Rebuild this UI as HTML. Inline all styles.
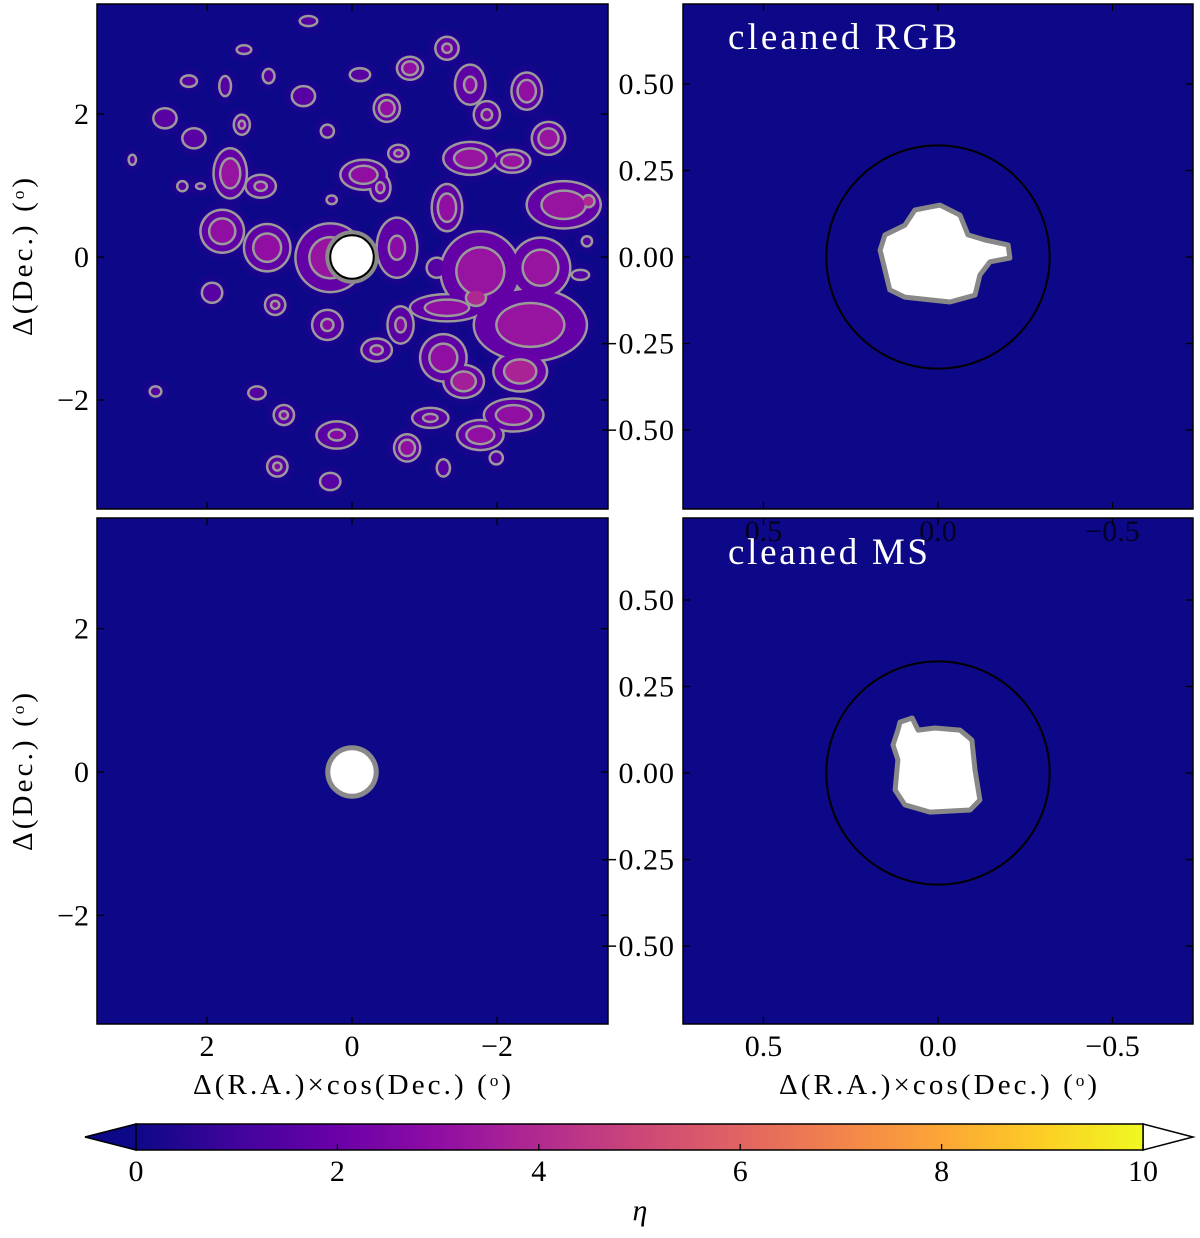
<!DOCTYPE html>
<html><head><meta charset="utf-8"><style>
html,body{margin:0;padding:0;background:#fff;}
svg text{font-family:"Liberation Serif",serif;}
</style></head><body>
<svg id="fig" width="1200" height="1233" viewBox="0 0 1200 1233" xmlns="http://www.w3.org/2000/svg">
<defs>
<linearGradient id="plasma" x1="0" x2="1" y1="0" y2="0">
<stop offset="0" stop-color="#0d0887"/><stop offset="0.1" stop-color="#41049d"/><stop offset="0.2" stop-color="#6a00a8"/><stop offset="0.3" stop-color="#8f0da4"/><stop offset="0.4" stop-color="#b12a90"/><stop offset="0.5" stop-color="#cc4778"/><stop offset="0.6" stop-color="#e16462"/><stop offset="0.7" stop-color="#f2844b"/><stop offset="0.8" stop-color="#fca636"/><stop offset="0.9" stop-color="#fcce25"/><stop offset="1" stop-color="#f0f921"/>
</linearGradient>
<clipPath id="c1"><rect x="97" y="4" width="511" height="505"/></clipPath>
<filter id="soft"><feGaussianBlur stdDeviation="3"/></filter>
</defs>
</svg>
<script>
// ---- data (deg): blob centres, radii and peak eta for the all-star density map ----
const blobRA  = [-1.31,-0.80,-1.63,-2.41,-0.48,-0.11,0.67,1.15,1.75,2.25,1.52,2.58,2.18,0.34,-0.64,-1.63,-2.21,-2.71,-1.86,1.68,1.26,-0.16,-0.39,-1.31,-2.92,-3.26,1.79,1.17,0.30,-0.62,-1.17,-1.77,-2.60,-1.71,-1.31,-2.46,1.06,1.93,0.34,-0.67,-0.34,-1.26,-2.32,-1.54,-2.23,-1.08,-1.77,0.21,-0.76,0.94,1.03,0.30,1.31,2.71,-1.26,-1.99,1.49,0.60,3.03,2.34,2.09,0.28,-3.15,-3.24];
const blobDec = [2.92,2.64,2.41,2.32,2.08,2.55,2.25,2.53,2.39,2.46,1.85,1.94,1.66,1.76,1.45,1.38,1.34,1.66,1.99,1.17,0.99,1.15,0.97,0.69,0.73,0.78,0.36,0.13,-0.01,0.13,-0.15,-0.20,-0.15,-0.57,-0.71,-0.95,-0.67,-0.50,-0.95,-0.95,-1.30,-1.41,-1.60,-1.74,-2.21,-2.25,-2.49,-2.49,-2.67,-2.21,-2.93,-3.14,-1.90,-1.88,-2.95,-2.81,2.90,3.30,1.36,0.99,0.99,0.80,-0.25,0.22];
const blobRx  = [0.16,0.18,0.21,0.21,0.18,0.14,0.16,0.08,0.08,0.11,0.11,0.16,0.16,0.09,0.14,0.37,0.25,0.23,0.18,0.23,0.21,0.32,0.14,0.21,0.51,0.14,0.30,0.32,0.48,0.28,0.14,0.55,0.41,0.23,0.51,0.78,0.14,0.14,0.21,0.18,0.21,0.32,0.37,0.28,0.41,0.25,0.32,0.28,0.18,0.14,0.14,0.14,0.12,0.08,0.09,0.09,0.10,0.12,0.05,0.07,0.06,0.07,0.12,0.07];
const blobRy  = [0.16,0.16,0.28,0.26,0.19,0.09,0.14,0.10,0.14,0.08,0.14,0.14,0.14,0.09,0.12,0.23,0.16,0.23,0.19,0.35,0.16,0.21,0.19,0.33,0.33,0.14,0.30,0.33,0.48,0.42,0.14,0.56,0.42,0.19,0.19,0.51,0.14,0.14,0.21,0.26,0.16,0.33,0.28,0.23,0.23,0.14,0.21,0.19,0.19,0.14,0.14,0.12,0.09,0.07,0.12,0.09,0.06,0.07,0.07,0.07,0.04,0.06,0.07,0.07];
const blobEta = [2.5,3,2.5,3,3,1.5,1.5,1,1,1,2,1.5,1.5,1.5,2,3.5,3.5,3.5,2,3.5,2.5,3,2,3,3.5,5.5,3,3,3.5,2.5,1,3.5,3.5,5.5,3,3.5,2,1.5,2,2,2,3,5,4.5,3,2,3,2,3,2,2,1.5,1,1,1,1,1,1,1,1,1,1,1,1];
// cleaned RGB / MS white regions (deg offsets)
const rgbRA  = [0.152,0.095,0.066,-0.006,-0.063,-0.086,-0.135,-0.201,-0.206,-0.149,-0.120,-0.106,-0.034,0.023,0.095,0.138,0.152,0.166];
const rgbDec = [0.064,0.092,0.136,0.150,0.121,0.064,0.049,0.035,-0.003,-0.014,-0.052,-0.110,-0.130,-0.124,-0.116,-0.095,-0.038,0.020];
const msRA  = [0.109,0.074,0.057,0.009,-0.063,-0.097,-0.106,-0.120,-0.092,0.023,0.095,0.123,0.115,0.129,0.115];
const msDec = [0.147,0.159,0.124,0.130,0.124,0.095,0.009,-0.078,-0.107,-0.113,-0.092,-0.049,0.038,0.081,0.124];
const leftTicks = [2,0,-2];
const rightXTicks = [0.5,0.0,-0.5];
const rightYTicks = [0.50,0.25,0.00,-0.25,-0.50];
const cbTicks = [0,2,4,6,8,10];
const clusterRadius = 0.32;
const maskRadius = 0.3;

const NS='http://www.w3.org/2000/svg';
const svg=document.getElementById('fig');
function el(tag,attrs,parent){const e=document.createElementNS(NS,tag);for(const k in attrs)e.setAttribute(k,attrs[k]);(parent||svg).appendChild(e);return e;}
const stops=['#0d0887','#41049d','#6a00a8','#8f0da4','#b12a90','#cc4778','#e16462','#f2844b','#fca636','#fcce25','#f0f921'];
function plasma(t){t=Math.max(0,Math.min(1,t))*10;const i=Math.min(9,Math.floor(t)),f=t-i;const a=stops[i],b=stops[i+1];
 const p=(s,k)=>parseInt(s.substr(k,2),16);let o='#';for(const k of [1,3,5]){o+=Math.round(p(a,k)+(p(b,k)-p(a,k))*f).toString(16).padStart(2,'0');}return o;}

const BG='#0d0887';
const P=[
 {x0:97,x1:608,y0:4,y1:509,cx:352,cy:257,sx:72.5,sy:71.5},
 {x0:683,x1:1193,y0:4,y1:509,cx:938,cy:257,sx:349,sy:346},
 {x0:97,x1:608,y0:518,y1:1024,cx:352,cy:772,sx:72.5,sy:71.7},
 {x0:683,x1:1193,y0:518,y1:1024,cx:938,cy:773,sx:349,sy:346}];
const X=(p,v)=>p.cx-v*p.sx, Y=(p,v)=>p.cy-v*p.sy;

P.forEach((p,i)=>{
 const r=el('rect',{x:p.x0,y:p.y0,width:p.x1-p.x0,height:p.y1-p.y0,fill:BG});
 
 
});

const p1=P[0];
const g1=el('g',{'clip-path':'url(#c1)'});


const glow=el('g',{filter:'url(#soft)'},g1);
const lv1s=el('g',{},g1), lv1f=el('g',{},g1), lv2s=el('g',{},g1), lv2f=el('g',{},g1);
for(let i=0;i<blobRA.length;i++){
 const cx=X(p1,blobRA[i]),cy=Y(p1,blobDec[i]),rx=blobRx[i]*p1.sx,ry=blobRy[i]*p1.sy,e=blobEta[i];
 let a=el('ellipse',{cx:cx,cy:cy,rx:rx+6,ry:ry+6,fill:'#2a0594',opacity:0.6},glow);
 a=el('ellipse',{cx:cx,cy:cy,rx:rx+1.3,ry:ry+1.3,fill:'#9a9a9a'},lv1s);
 
 
 a=el('ellipse',{cx:cx,cy:cy,rx:Math.max(rx-1.2,1),ry:Math.max(ry-1.2,1),fill:plasma(0.14+0.012*e)},lv1f);
 
 
 if(e>=2){const k=e>=3?0.6:0.4;
  el('ellipse',{cx:cx,cy:cy,rx:rx*k+1.3,ry:ry*k+1.3,fill:'#9a9a9a'},lv2s);
  el('ellipse',{cx:cx,cy:cy,rx:Math.max(rx*k-1.2,0.5),ry:Math.max(ry*k-1.2,0.5),fill:plasma(0.2+0.035*e)},lv2f);}
}
[[p1,true],[P[2],false]].forEach(([p,bl],j)=>{
 const rr=maskRadius*p.sx;
 el('circle',{cx:X(p,0),cy:Y(p,0),r:rr+5,fill:'#8a8a8a'});
 const c=el('circle',{cx:X(p,0),cy:Y(p,0),r:rr,fill:'#fff',stroke:bl?'#000':'none','stroke-width':2});
 
 
});

[[P[1],rgbRA,rgbDec,'rgb'],[P[3],msRA,msDec,'ms']].forEach(([p,ra,de,n])=>{
 const cc=el('circle',{cx:X(p,0),cy:Y(p,0),r:clusterRadius*p.sx,fill:'none',stroke:'#000','stroke-width':2});
 
 
 let d='';for(let i=0;i<ra.length;i++)d+=(i?'L':'M')+X(p,ra[i]).toFixed(1)+' '+Y(p,de[i]).toFixed(1);
 const b=el('path',{d:d+'Z',fill:'#fff',stroke:'#888','stroke-width':5,'stroke-linejoin':'round'});
 
 
});

P.forEach((p,i)=>{
 const f=el('rect',{x:p.x0,y:p.y0,width:p.x1-p.x0,height:p.y1-p.y0,fill:'none',stroke:'#000','stroke-width':1.5});
 
 
 const xt=i%2==0?leftTicks:rightXTicks, yt=i%2==0?leftTicks:rightYTicks;
 xt.forEach(v=>{const x=X(p,v);el('line',{x1:x,x2:x,y1:p.y1,y2:p.y1-7,stroke:'#000','stroke-width':1.3});el('line',{x1:x,x2:x,y1:p.y0,y2:p.y0+7,stroke:'#000','stroke-width':1.3});});
 yt.forEach(v=>{const y=Y(p,v);el('line',{x1:p.x0,x2:p.x0+7,y1:y,y2:y,stroke:'#000','stroke-width':1.3});el('line',{x1:p.x1,x2:p.x1-7,y1:y,y2:y,stroke:'#000','stroke-width':1.3});});
});
function txt(s,x,y,size,anchor,name,color){const t=el('text',{x:x,y:y,'font-size':size,'text-anchor':anchor||'middle',fill:color||'#000'});t.textContent=s;
 
 
 return t;}
const fmt=v=>(v<0?'\u2212':'')+Math.abs(v);
[P[0],P[2]].forEach(p=>leftTicks.forEach(v=>txt(fmt(v),p.x0-8,Y(p,v)+10,30,'end','y-tick-label')));
[P[1],P[3]].forEach(p=>rightYTicks.forEach(v=>{const t=txt((v<0?'\u2212':'')+Math.abs(v).toFixed(2),p.x0-8,Y(p,v)+10,30,'end','y-tick-label');t.setAttribute('letter-spacing','1');}));
leftTicks.forEach(v=>txt(fmt(v),X(P[2],v),P[2].y1+32,30,'middle','x-tick-label'));
rightXTicks.forEach(v=>txt((v<0?'\u2212':'')+Math.abs(v).toFixed(1),X(P[3],v),P[3].y1+32,30,'middle','x-tick-label'));
rightXTicks.forEach(v=>{const t=txt((v<0?'\u2212':'')+Math.abs(v).toFixed(1),X(P[1],v),P[1].y1+32,30,'middle','x-tick-label-overlap');t.setAttribute('opacity','0.75');});
let t=txt('cleaned RGB',728,49,37,'start','panel-title-rgb','#fff');t.setAttribute('textLength','229');
t=txt('cleaned MS',728,564,37,'start','panel-title-ms','#fff');t.setAttribute('textLength','200');
[352,938].forEach(cx=>{const a=txt('\u0394(R.A.)\u00d7cos(Dec.)  (\u1d52)',cx,1094,29,'middle','x-axis-title');a.setAttribute('textLength','318');});
[P[0],P[2]].forEach(p=>{const a=txt('\u0394(Dec.)  (\u1d52)',0,0,29,'middle','y-axis-title');a.setAttribute('textLength','158');a.setAttribute('transform','translate(32,'+p.cy+') rotate(-90)');});

const cb0=136,cbS=100.7,cbT=1124,cbB=1150;
const cbx=v=>cb0+v*cbS;
el('polygon',{points:`${cbx(0)},${cbT} 85,${(cbT+cbB)/2} ${cbx(0)},${cbB}`,fill:BG,stroke:'#000','stroke-width':1.5});
el('polygon',{points:`${cbx(10)},${cbT} 1193,${(cbT+cbB)/2} ${cbx(10)},${cbB}`,fill:'#fff',stroke:'#000','stroke-width':1.5});
const cbr=el('rect',{x:cbx(0),y:cbT,width:cbx(10)-cbx(0),height:cbB-cbT,fill:'url(#plasma)',stroke:'#000','stroke-width':1.5});


cbTicks.forEach(v=>{el('line',{x1:cbx(v),x2:cbx(v),y1:cbB,y2:cbB-6,stroke:'#000','stroke-width':1.3});txt(String(v),cbx(v),cbB+31,30,'middle','colorbar-tick-label');});
const eta=txt('\u03b7',640,1220,30,'middle','colorbar-label');eta.setAttribute('font-style','italic');
</script>
</body></html>
